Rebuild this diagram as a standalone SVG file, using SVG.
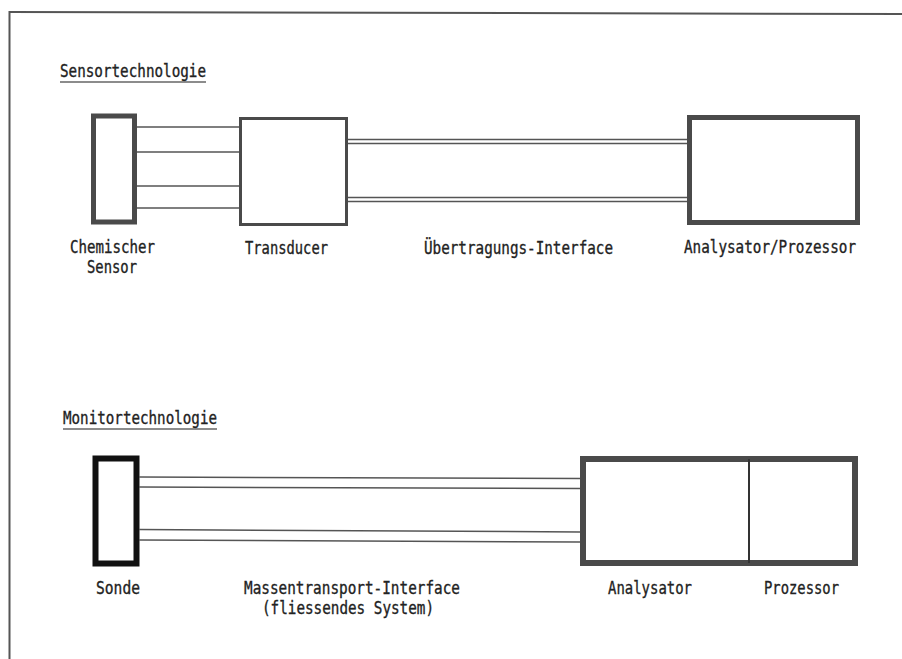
<svg xmlns="http://www.w3.org/2000/svg" width="902" height="659" viewBox="0 0 902 659">
<style>
text{font-family:"DejaVu Sans Mono","Liberation Mono",monospace;font-size:17.5px;fill:#222;stroke:#222;stroke-width:0.35}
.box{fill:#fff;stroke:#4a4a4a}
.wire{stroke:#555;stroke-width:1.5;fill:none}
.ul{stroke:#666;stroke-width:1.5}
</style>
<rect width="902" height="659" fill="#fff"/>
<g id="frame">
<line x1="9" y1="12" x2="902" y2="14" stroke="#555" stroke-width="2"/>
<line x1="9.5" y1="11" x2="9.5" y2="659" stroke="#555" stroke-width="2"/>
</g>
<g id="title-sensor">
<text x="60" y="77" textLength="146" lengthAdjust="spacingAndGlyphs">Sensortechnologie</text>
<line class="ul" x1="60" y1="82" x2="206" y2="82"/>
</g>
<g id="chem-sensor">
<rect class="box" x="93.5" y="116" width="41" height="106" stroke-width="5"/>
<text x="70" y="253" textLength="85" lengthAdjust="spacingAndGlyphs">Chemischer</text>
<text x="87" y="273" textLength="50" lengthAdjust="spacingAndGlyphs">Sensor</text>
</g>
<g id="transducer">
<rect class="box" x="240.5" y="118.5" width="106" height="106" stroke-width="3"/>
<text x="245" y="254" textLength="83" lengthAdjust="spacingAndGlyphs">Transducer</text>
</g>
<g id="analysator-prozessor">
<rect class="box" x="689.5" y="117.5" width="168" height="105" stroke-width="5"/>
<text x="684" y="253" textLength="172" lengthAdjust="spacingAndGlyphs">Analysator/Prozessor</text>
</g>
<g id="uebertragung-label">
<text x="424" y="254" textLength="189" lengthAdjust="spacingAndGlyphs">Übertragungs-Interface</text>
</g>
<g id="title-monitor">
<text x="63" y="424" textLength="154" lengthAdjust="spacingAndGlyphs">Monitortechnologie</text>
<line class="ul" x1="63" y1="429" x2="217" y2="429"/>
</g>
<g id="sonde">
<rect x="95.5" y="458.5" width="41" height="105" fill="#fff" stroke="#111" stroke-width="6"/>
<text x="96" y="594" textLength="44" lengthAdjust="spacingAndGlyphs">Sonde</text>
</g>
<g id="analysator-prozessor-2">
<rect class="box" x="583" y="459" width="272" height="104" stroke-width="6"/>
<line x1="749" y1="459" x2="749" y2="563" stroke="#333" stroke-width="2"/>
<text x="608" y="594" textLength="84" lengthAdjust="spacingAndGlyphs">Analysator</text>
<text x="764" y="594" textLength="75" lengthAdjust="spacingAndGlyphs">Prozessor</text>
</g>
<g id="massentransport-label">
<text x="244" y="594" textLength="216" lengthAdjust="spacingAndGlyphs">Massentransport-Interface</text>
<text x="262" y="614" textLength="172" lengthAdjust="spacingAndGlyphs">(fliessendes System)</text>
</g>
<g id="connectors">
<line class="wire" x1="137" y1="127" x2="239" y2="127"/>
<line class="wire" x1="137" y1="152" x2="239" y2="152"/>
<line class="wire" x1="137" y1="186" x2="239" y2="186"/>
<line class="wire" x1="137" y1="208" x2="239" y2="208"/>
<line class="wire" x1="348" y1="139.5" x2="687" y2="139.5"/>
<line class="wire" x1="348" y1="143.5" x2="687" y2="143.5"/>
<line class="wire" x1="348" y1="197.5" x2="687" y2="197.5"/>
<line class="wire" x1="348" y1="201.5" x2="687" y2="201.5"/>
<line class="wire" x1="139" y1="477" x2="580" y2="478.5"/>
<line class="wire" x1="139" y1="487" x2="580" y2="488.5"/>
<line class="wire" x1="139" y1="529.5" x2="580" y2="532"/>
<line class="wire" x1="139" y1="540" x2="580" y2="542"/>
</g>
</svg>
